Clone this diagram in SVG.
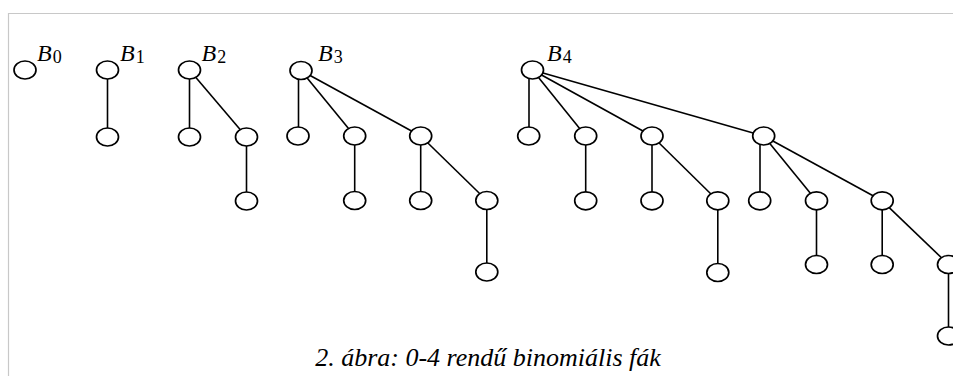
<svg xmlns="http://www.w3.org/2000/svg" width="953" height="376" viewBox="0 0 953 376">
<style>
.frame{fill:none;stroke:#c8c8c8;stroke-width:1.2}
.edge{stroke:#000;stroke-width:1.6;fill:none}
.node ellipse{fill:#fff;stroke:#000;stroke-width:1.7}
.lbl{font-family:"Liberation Serif","Times New Roman",serif;font-style:italic;font-size:24px;fill:#000}
.sub{font-family:"Liberation Serif","Times New Roman",serif;font-style:normal;font-size:18px;fill:#000}
.cap{font-family:"Liberation Serif","Times New Roman",serif;font-style:italic;font-size:26px;fill:#000}
</style>
<rect width="953" height="376" fill="#fff"/>
<path class="frame" d="M8.5,376 V13.5 H953"/>
<g id="connectors">
<line class="edge" x1="107.5" y1="70" x2="107.5" y2="137"/>
<line class="edge" x1="189.5" y1="70" x2="189.5" y2="137"/>
<line class="edge" x1="189.5" y1="70" x2="246.5" y2="137"/>
<line class="edge" x1="246.5" y1="137" x2="246.5" y2="201"/>
<line class="edge" x1="298.5" y1="72" x2="298.5" y2="136"/>
<line class="edge" x1="301" y1="70.5" x2="354.7" y2="136"/>
<line class="edge" x1="301" y1="70.5" x2="420.7" y2="136"/>
<line class="edge" x1="354.7" y1="136" x2="354.7" y2="200.5"/>
<line class="edge" x1="420.7" y1="136" x2="420.7" y2="200.5"/>
<line class="edge" x1="420.7" y1="136" x2="486.8" y2="200.5"/>
<line class="edge" x1="486.8" y1="200.5" x2="486.8" y2="272"/>
<line class="edge" x1="529" y1="72" x2="529" y2="136"/>
<line class="edge" x1="532.5" y1="70" x2="585.7" y2="136"/>
<line class="edge" x1="532.5" y1="70" x2="652" y2="136"/>
<line class="edge" x1="532.5" y1="70" x2="763.7" y2="136"/>
<line class="edge" x1="585.7" y1="136" x2="585.7" y2="200.8"/>
<line class="edge" x1="652" y1="136" x2="652" y2="200.8"/>
<line class="edge" x1="652" y1="136" x2="717.8" y2="200.8"/>
<line class="edge" x1="717.8" y1="200.8" x2="717.8" y2="272.5"/>
<line class="edge" x1="760" y1="138" x2="760" y2="200.8"/>
<line class="edge" x1="763.7" y1="136" x2="816.5" y2="200.8"/>
<line class="edge" x1="763.7" y1="136" x2="882.2" y2="200.8"/>
<line class="edge" x1="816.5" y1="200.8" x2="816.5" y2="264.5"/>
<line class="edge" x1="882.2" y1="200.8" x2="882.2" y2="264.5"/>
<line class="edge" x1="882.2" y1="200.8" x2="948.5" y2="264.5"/>
<line class="edge" x1="948.5" y1="264.5" x2="948.5" y2="336"/>
</g>
<g id="B0" class="node"><ellipse cx="25" cy="70" rx="11" ry="9"/><text class="lbl" x="37" y="61">B<tspan class="sub" dx="1" dy="2">0</tspan></text></g>
<g id="B1" class="node"><ellipse cx="107.5" cy="70" rx="11" ry="9"/><text class="lbl" x="120" y="61">B<tspan class="sub" dx="1" dy="2">1</tspan></text></g>
<g id="B1-1" class="node"><ellipse cx="107.5" cy="137" rx="11" ry="9"/></g>
<g id="B2" class="node"><ellipse cx="189.5" cy="70" rx="11" ry="9"/><text class="lbl" x="201.5" y="61">B<tspan class="sub" dx="1" dy="2">2</tspan></text></g>
<g id="B2-1" class="node"><ellipse cx="189.5" cy="137" rx="11" ry="9"/></g>
<g id="B2-2" class="node"><ellipse cx="246.5" cy="137" rx="11" ry="9"/></g>
<g id="B2-3" class="node"><ellipse cx="246.5" cy="201" rx="11" ry="9"/></g>
<g id="B3" class="node"><ellipse cx="301" cy="70.5" rx="11" ry="9"/><text class="lbl" x="318" y="61">B<tspan class="sub" dx="1" dy="2">3</tspan></text></g>
<g id="B3-1" class="node"><ellipse cx="298" cy="136" rx="11" ry="9"/></g>
<g id="B3-2" class="node"><ellipse cx="354.7" cy="136" rx="11" ry="9"/></g>
<g id="B3-3" class="node"><ellipse cx="420.7" cy="136" rx="11" ry="9"/></g>
<g id="B3-4" class="node"><ellipse cx="354.7" cy="200.5" rx="11" ry="9"/></g>
<g id="B3-5" class="node"><ellipse cx="420.7" cy="200.5" rx="11" ry="9"/></g>
<g id="B3-6" class="node"><ellipse cx="486.8" cy="200.5" rx="11" ry="9"/></g>
<g id="B3-7" class="node"><ellipse cx="486.8" cy="272" rx="11" ry="9"/></g>
<g id="B4" class="node"><ellipse cx="532.5" cy="70" rx="11" ry="9"/><text class="lbl" x="547" y="61">B<tspan class="sub" dx="1" dy="2">4</tspan></text></g>
<g id="B4-1" class="node"><ellipse cx="528.7" cy="136" rx="11" ry="9"/></g>
<g id="B4-2" class="node"><ellipse cx="585.7" cy="136" rx="11" ry="9"/></g>
<g id="B4-3" class="node"><ellipse cx="652" cy="136" rx="11" ry="9"/></g>
<g id="B4-4" class="node"><ellipse cx="763.7" cy="136" rx="11" ry="9"/></g>
<g id="B4-5" class="node"><ellipse cx="585.7" cy="200.8" rx="11" ry="9"/></g>
<g id="B4-6" class="node"><ellipse cx="652" cy="200.8" rx="11" ry="9"/></g>
<g id="B4-7" class="node"><ellipse cx="717.8" cy="200.8" rx="11" ry="9"/></g>
<g id="B4-8" class="node"><ellipse cx="759.7" cy="200.8" rx="11" ry="9"/></g>
<g id="B4-9" class="node"><ellipse cx="816.5" cy="200.8" rx="11" ry="9"/></g>
<g id="B4-10" class="node"><ellipse cx="882.2" cy="200.8" rx="11" ry="9"/></g>
<g id="B4-11" class="node"><ellipse cx="717.8" cy="272.5" rx="11" ry="9"/></g>
<g id="B4-12" class="node"><ellipse cx="816.5" cy="264.5" rx="11" ry="9"/></g>
<g id="B4-13" class="node"><ellipse cx="882.2" cy="264.5" rx="11" ry="9"/></g>
<g id="B4-14" class="node"><ellipse cx="948.5" cy="264.5" rx="11" ry="9"/></g>
<g id="B4-15" class="node"><ellipse cx="948.5" cy="336" rx="11" ry="9"/></g>
<text class="cap" x="488" y="366" text-anchor="middle">2. ábra: 0-4 rendű binomiális fák</text>
</svg>
